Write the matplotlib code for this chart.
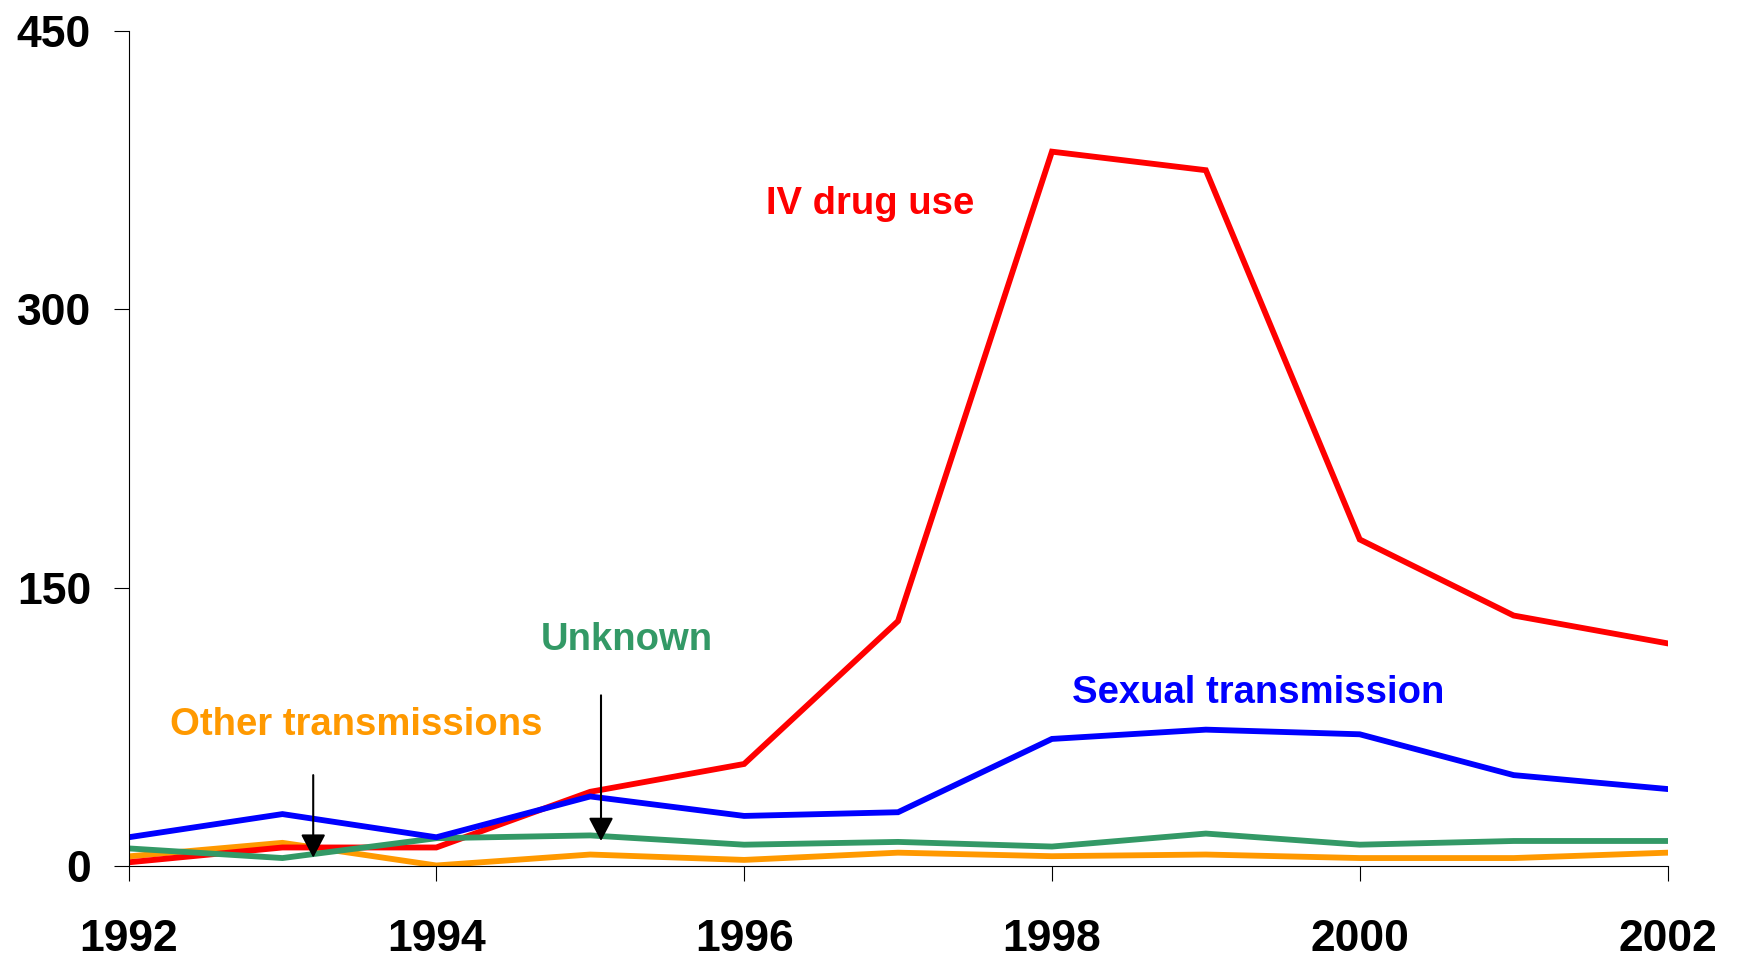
import matplotlib.pyplot as plt

years = [1992, 1993, 1994, 1995, 1996, 1997, 1998, 1999, 2000, 2001, 2002]
iv_drug = [2, 10, 10, 40, 55, 132, 385, 375, 176, 135, 120]
sexual = [15.5, 28, 15.5, 37.5, 27, 29, 68.5, 73.5, 71, 49, 41.5]
unknown = [9.5, 4.3, 15, 16.5, 11.5, 13, 10.5, 17.5, 11.5, 13.5, 13.5]
other = [5.2, 12.5, 0.3, 6.2, 3.3, 7.2, 5.3, 6.2, 4.3, 4.3, 7.2]

x_ticks = [1992, 1994, 1996, 1998, 2000, 2002]
y_ticks = [0, 150, 300, 450]

RED = '#FF0000'
BLUE = '#0000FF'
GREEN = '#339966'
ORANGE = '#FF9900'

plt.rcParams['font.family'] = ['Liberation Sans', 'DejaVu Sans']

fig = plt.figure(figsize=(17.37, 9.58), dpi=100)
ax = fig.add_axes([0.074, 0.096, 0.886, 0.8716])

lw = 4.2
ax.plot(years, other, color=ORANGE, lw=lw, solid_joinstyle='miter')
ax.plot(years, iv_drug, color=RED, lw=lw, solid_joinstyle='miter')
ax.plot(years, unknown, color=GREEN, lw=lw, solid_joinstyle='miter')
ax.plot(years, sexual, color=BLUE, lw=lw, solid_joinstyle='miter')

ax.set_xlim(1992, 2002)
ax.set_ylim(0, 450)
ax.set_xticks(x_ticks)
ax.set_yticks(y_ticks)
ax.tick_params(axis='x', direction='out', length=11, width=0.8, pad=27, labelsize=32)
ax.tick_params(axis='y', direction='out', length=11, width=0.8, pad=16, labelsize=32)
for lbl in ax.get_xticklabels() + ax.get_yticklabels():
    lbl.set_fontweight('bold')

for side in ['top', 'right']:
    ax.spines[side].set_visible(False)
for side in ['left', 'bottom']:
    ax.spines[side].set_linewidth(0.8)

# series labels
lab = dict(fontsize=27.5, fontweight='bold', ha='center', va='center')
ax.text(1996.82, 357, 'IV drug use', color=RED, **lab)
ax.text(1995.24, 122, 'Unknown', color=GREEN, **lab)
ax.text(1999.34, 93, 'Sexual transmission', color=BLUE, **lab)
ax.text(1993.48, 76, 'Other transmissions', color=ORANGE, **lab)

# arrows
arrow_style = dict(arrowstyle='-|>,head_length=0.72,head_width=0.38', color='black', lw=1.5,
                   shrinkA=0, shrinkB=0, mutation_scale=20)
ax.annotate('', xy=(1993.2, 4.5), xytext=(1993.2, 49), arrowprops=arrow_style)
ax.annotate('', xy=(1995.07, 13.5), xytext=(1995.07, 92), arrowprops=arrow_style)

plt.savefig('out.png', dpi=100)
plt.close()
